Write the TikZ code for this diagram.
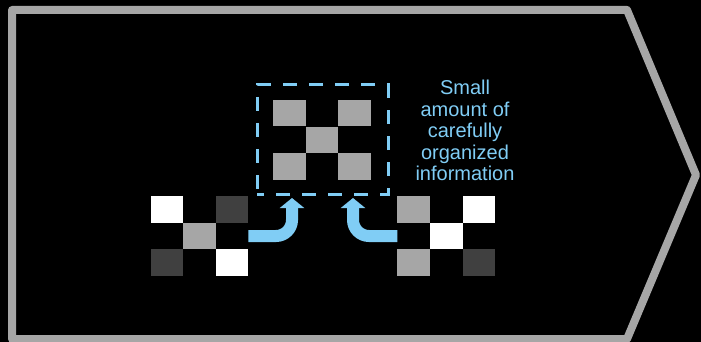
\documentclass[tikz,border=0pt]{standalone}
\usepackage{fontspec}
\setmainfont{Liberation Sans}
\usetikzlibrary{arrows.meta}
\usetikzlibrary{positioning}
\definecolor{frame}{HTML}{A6A6A6}
\definecolor{sky}{HTML}{80CDF5}
\definecolor{midgrey}{HTML}{A6A6A6}
\definecolor{darkgrey}{HTML}{404040}

\begin{document}
\begin{tikzpicture}[x=1pt,y=-1pt,
    cell/.style={minimum width=32.5pt,minimum height=26.7pt,inner sep=0pt,outer sep=0pt},
    flow/.style={sky,line width=12pt,rounded corners=16pt,-{Triangle[width=24pt,length=10pt]}}]
    \useasboundingbox (0,0) rectangle (701,342);
    \fill[black] (0,0) rectangle (701,342);
    \draw[frame,line width=8pt,line join=round]
      (12,10) -- (627,10) -- (696,175) -- (627,339) -- (12,339) -- cycle;
    % left board
    \begin{scope}
      \tikzstyle{every node}=[cell]
      \node[fill=white]    (L11) at (167  ,209.5) {};
      \node[fill=darkgrey] (L13) at (232  ,209.5) {};
      \node[fill=midgrey]  (L22) at (199.5,236)   {};
      \node[fill=darkgrey] (L31) at (167  ,262.5) {};
      \node[fill=white]    (L33) at (232  ,262.5) {};
    \end{scope}
    % middle board
    \begin{scope}
      \tikzstyle{every node}=[cell,fill=midgrey]
      \node (M11) at (289.5,113)   {};
      \node (M13) at (354.5,113)   {};
      \node (M22) at (322  ,140)   {};
      \node (M31) at (289.5,166.5) {};
      \node (M33) at (354.5,166.5) {};
    \end{scope}
    % right board
    \begin{scope}
      \tikzstyle{every node}=[cell]
      \node[fill=midgrey]  (R11) at (413.5,209.5) {};
      \node[fill=white]    (R13) at (479  ,209.5) {};
      \node[fill=white]    (R22) at (446.5,236)   {};
      \node[fill=midgrey]  (R31) at (413.5,262.5) {};
      \node[fill=darkgrey] (R33) at (479  ,262.5) {};
    \end{scope}
    \node[draw=sky,line width=3pt,dash pattern=on 14pt off 12pt,dash phase=7pt,
          minimum width=131pt,minimum height=109pt] (focus) at (322.5,139.5) {};
    \node[sky,font=\fontsize{20}{21.5}\selectfont,align=center,anchor=north,inner sep=0pt]
      (note) at (465,80) {Small\\amount of\\carefully\\organized\\information};
    \coordinate (ltip) at (292,198);
    \coordinate (rtip) at (353,198);
    \draw[flow] (L13.east |- L22) -| (ltip);
    \draw[flow] (R11.west |- R22) -| (rtip);
  \end{tikzpicture}
\end{document}
